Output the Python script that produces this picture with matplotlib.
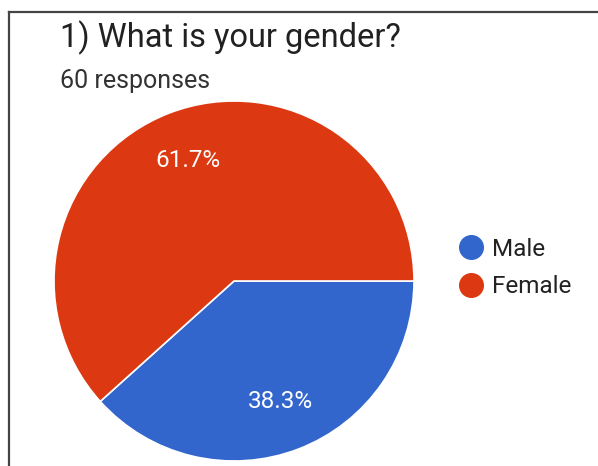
import matplotlib.pyplot as plt
from matplotlib.lines import Line2D

# data
labels = ['Male', 'Female']
counts = [23, 37]
colors = ['#3366CC', '#DC3912']
title = '1) What is your gender?'
subtitle = '60 responses'

W, H = 598, 466
plt.rcParams['font.family'] = ['Roboto', 'DejaVu Sans']

fig = plt.figure(figsize=(W / 100, H / 100), dpi=100)

# pie axes, placed in pixel terms
cx, cy, r = 234, 281, 180
ax = fig.add_axes([(cx - r) / W, (H - cy - r) / H, 2 * r / W, 2 * r / H])
wedges, texts, autotexts = ax.pie(
    counts, colors=colors, startangle=0, counterclock=False,
    autopct='%1.1f%%', pctdistance=0.72,
    wedgeprops=dict(edgecolor='white', linewidth=1.2),
    textprops=dict(color='white', fontsize=17.5))
ax.set_xlim(-1, 1)
ax.set_ylim(-1, 1)
ax.set_aspect('equal')

# frame lines (top and left only)
fig.add_artist(Line2D([8.5 / W, 1], [1 - 11.5 / H, 1 - 11.5 / H],
                      color='#444444', lw=1.6, transform=fig.transFigure))
fig.add_artist(Line2D([8.5 / W, 8.5 / W], [0, 1 - 11.5 / H],
                      color='#444444', lw=1.6, transform=fig.transFigure))

fig.text(60 / W, 1 - 47 / H, title, fontsize=23.5, color='#212121',
         va='baseline')
fig.text(60 / W, 1 - 88 / H, subtitle, fontsize=18, color='#333333',
         va='baseline')

handles = [Line2D([], [], marker='o', linestyle='', markersize=17,
                  markerfacecolor=c, markeredgecolor=c) for c in colors]
fig.legend(handles, labels, loc='center left',
           bbox_to_anchor=(443 / W, 1 - 268 / H), frameon=False,
           fontsize=17.5, handletextpad=0.22, labelspacing=0.58,
           handlelength=1.3, borderpad=0, labelcolor='#222222')

fig.savefig('out.png', dpi=100)
